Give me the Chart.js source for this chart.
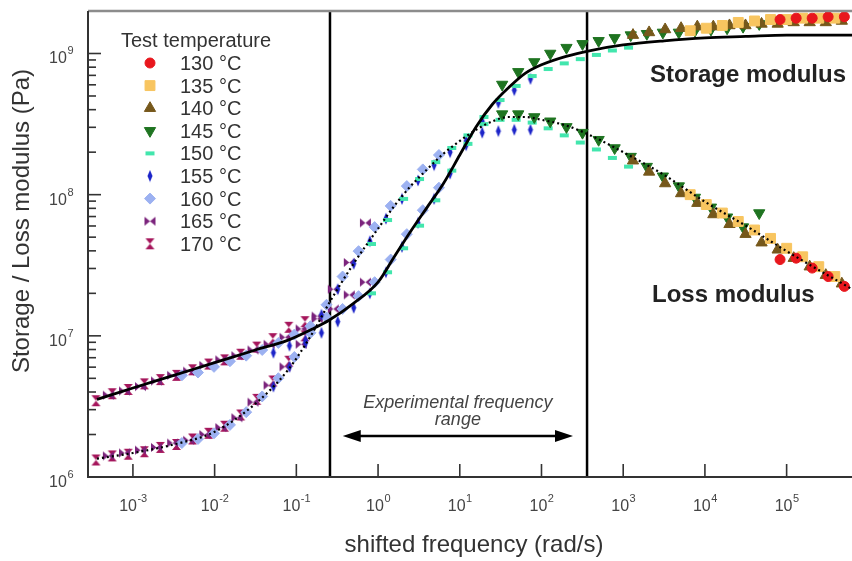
<!DOCTYPE html>
<html>
<head>
<meta charset="utf-8">
<title>Master curve</title>
<script src="https://cdn.jsdelivr.net/npm/chart.js@4.4.1/dist/chart.umd.min.js"></script>
<style>
  html, body { margin: 0; padding: 0; background: #fff; }
  #wrap { width: 852px; height: 561px; }
</style>
</head>
<body>
<div id="wrap"><canvas id="masterCurve" width="852" height="561"></canvas></div>
<script>
// test temperatures, in legend order
var temps = ['130 °C', '135 °C', '140 °C', '145 °C', '150 °C', '155 °C', '160 °C', '165 °C', '170 °C'];

// frequency sweep used at every temperature (rad/s)
var freq = [0.258, 0.406, 0.638, 1.00, 1.58, 2.48, 3.91, 6.14, 9.66, 15.2, 23.9, 37.5, 59.0, 92.7, 146, 229, 361];

// horizontal shift factor aT for each temperature
var shiftFactor = [3.22e5, 2.56e4, 5.11e3, 128, 3.22, 0.203, 0.0154, 1.94e-3, 3.53e-4];

// storage modulus G' (Pa) per temperature, null = outside the plotted window
var storage130 = [1.74e9, 1.78e9, 1.78e9, 1.82e9, 1.82e9];
var storage135 = [1.45e9, 1.51e9, 1.58e9, 1.66e9, 1.70e9, 1.74e9, 1.74e9, 1.78e9, 1.78e9, 1.78e9];
var storage140 = [1.35e9, 1.41e9, 1.48e9, 1.51e9, 1.55e9, 1.55e9, 1.58e9, 1.58e9, 1.62e9, 1.62e9, 1.66e9, 1.66e9, 1.66e9, 1.70e9];
var storage145 = [6.03e8, 7.41e8, 8.71e8, 1.00e9, 1.10e9, 1.17e9, 1.23e9, 1.29e9, 1.35e9, 1.38e9, 1.41e9, 1.41e9, 1.45e9, 1.48e9, 1.51e9, 1.55e9, 1.62e9];
var storage150 = [2.00e7, 2.82e7, 4.17e7, 6.03e7, 9.12e7, 1.48e8, 2.29e8, 3.55e8, 4.68e8, 5.89e8, 6.92e8, 7.76e8, 8.51e8, 9.12e8, 9.77e8, 1.05e9, 1.10e9];
var storage155 = [7.59e6, 8.51e6, 9.33e6, 1.05e7, 1.26e7, 1.58e7, 2.00e7, 2.82e7, 4.27e7, 6.31e7, 9.33e7, 1.41e8, 2.24e8, 3.31e8, 4.47e8, 5.50e8, 6.61e8];
var storage160 = [5.25e6, 5.50e6, 6.03e6, 6.61e6, 7.24e6, 7.94e6, 8.91e6, 1.02e7, 1.17e7, 1.35e7, 1.55e7, 1.91e7, 2.40e7, 3.47e7, 5.25e7, 7.76e7, 1.12e8];
var storage165 = [3.80e6, 4.07e6, 4.37e6, 4.79e6, 5.25e6, 5.62e6, 6.17e6, 6.76e6, 7.24e6, 7.94e6, 8.71e6, 9.77e6, 1.12e7, 1.32e7, 1.55e7, 1.95e7, 2.40e7];
var storage170 = [null, null, null, 3.47e6, 3.89e6, 4.17e6, 4.57e6, 4.90e6, 5.25e6, 5.75e6, 6.31e6, 6.76e6, 7.41e6, 8.32e6, 9.55e6, 1.15e7, 1.26e7];

// loss modulus G'' (Pa) per temperature
var loss130 = [3.47e7, 3.55e7, 3.02e7, 2.63e7, 2.24e7];
var loss135 = [1.00e8, 8.51e7, 7.41e7, 6.46e7, 5.62e7, 4.90e7, 4.17e7, 3.63e7, 3.09e7, 2.63e7];
var loss140 = [1.74e8, 1.45e8, 1.20e8, 1.02e8, 8.71e7, 7.24e7, 6.17e7, 5.25e7, 4.57e7, 4.07e7, 3.55e7, 3.09e7, 2.69e7, 2.34e7];
var loss145 = [3.72e8, 3.72e8, 3.55e8, 3.31e8, 3.02e8, 2.75e8, 2.45e8, 2.14e8, 1.86e8, 1.58e8, 1.35e8, 1.15e8, 9.55e7, 8.13e7, 6.92e7, 5.89e7, 7.41e7];
var loss150 = [4.47e7, 6.61e7, 9.33e7, 1.29e8, 1.70e8, 2.14e8, 2.63e8, 3.16e8, 3.39e8, 3.39e8, 3.24e8, 2.95e8, 2.63e8, 2.34e8, 2.09e8, 1.82e8, 1.58e8];
var loss155 = [4.37e6, 6.03e6, 8.91e6, 1.41e7, 2.14e7, 3.24e7, 4.68e7, 6.76e7, 9.33e7, 1.26e8, 1.62e8, 2.00e8, 2.40e8, 2.75e8, 2.82e8, 2.88e8, 2.88e8];
var loss160 = [1.74e6, 1.86e6, 2.04e6, 2.34e6, 2.88e6, 3.72e6, 5.01e6, 7.08e6, 1.05e7, 1.66e7, 2.63e7, 3.98e7, 5.89e7, 8.32e7, 1.15e8, 1.51e8, 1.91e8];
var loss165 = [1.41e6, 1.48e6, 1.55e6, 1.62e6, 1.74e6, 1.82e6, 2.00e6, 2.24e6, 2.63e6, 3.39e6, 4.47e6, 6.03e6, 8.71e6, 1.38e7, 2.14e7, 3.31e7, 6.31e7];
var loss170 = [null, null, null, 1.32e6, 1.41e6, 1.45e6, 1.51e6, 1.62e6, 1.70e6, 1.86e6, 2.04e6, 2.29e6, 2.75e6, 3.55e6, 4.79e6, 6.61e6, 1.00e7];

var storageSets = [storage130, storage135, storage140, storage145, storage150, storage155, storage160, storage165, storage170];
var lossSets = [loss130, loss135, loss140, loss145, loss150, loss155, loss160, loss165, loss170];

// model fit of the master curve
var fitFreq = [3.63e-4, 1e-3, 3.16e-3, 1e-2, 3.16e-2, 0.0794, 0.158, 0.251, 0.501, 1, 1.58, 2.51, 3.98, 6.31, 10, 15.8, 25.1, 39.8, 63.1, 100, 200, 398, 1000, 3162, 1e4, 31623, 1e5, 6.31e5];
var fitStorage = [3.55e6, 4.27e6, 5.25e6, 6.46e6, 7.94e6, 9.33e6, 1.12e7, 1.29e7, 1.70e7, 2.40e7, 3.63e7, 5.50e7, 8.13e7, 1.20e8, 1.91e8, 3.02e8, 4.37e8, 5.75e8, 7.24e8, 8.32e8, 9.55e8, 1.05e9, 1.15e9, 1.23e9, 1.29e9, 1.32e9, 1.35e9, 1.35e9];
var fitLoss = [1.35e6, 1.48e6, 1.70e6, 2.09e6, 3.31e6, 5.75e6, 1.05e7, 1.70e7, 3.24e7, 5.75e7, 8.32e7, 1.15e8, 1.51e8, 1.95e8, 2.40e8, 2.88e8, 3.31e8, 3.55e8, 3.55e8, 3.39e8, 3.09e8, 2.63e8, 2.00e8, 1.38e8, 8.91e7, 6.03e7, 3.98e7, 2.14e7];

// experimental window (rad/s) and the arrow drawn inside it
var rangeLimits = [0.258, 361];
var arrowSpan = [0.37, 243];
var arrowLevel = 1.95e6;

// decade tick labels
var xTickPowers = [-3, -2, -1, 0, 1, 2, 3, 4, 5];
var yTickPowers = [6, 7, 8, 9];

var FONT = '"Liberation Sans", Arial, Helvetica, sans-serif';
var markerColors = ['#e8171d', '#f8c560', '#76581b', '#1f7421', '#42e6ad', '#1d25c9', '#9cb1f1', '#7b237c', '#a5155b'];

// custom marker shapes
function makeSprite(w, h, color, path) {
  var c = document.createElement('canvas');
  c.width = w; c.height = h;
  var g = c.getContext('2d');
  g.fillStyle = color;
  g.beginPath();
  path(g, w, h);
  g.fill();
  return c;
}
var thinDiamond = makeSprite(8, 13, markerColors[5], function (g, w, h) {
  g.moveTo(w / 2, 0.5); g.lineTo(w - 1.5, h / 2); g.lineTo(w / 2, h - 0.5); g.lineTo(1.5, h / 2); g.closePath();
});
var bowtie = makeSprite(13, 11, markerColors[7], function (g, w, h) {
  g.moveTo(1, 1); g.lineTo(1, h - 1); g.lineTo(w / 2, h / 2); g.closePath();
  g.moveTo(w - 1, 1); g.lineTo(w - 1, h - 1); g.lineTo(w / 2, h / 2); g.closePath();
});
var hourglass = makeSprite(11, 13, markerColors[8], function (g, w, h) {
  g.moveTo(1, 1); g.lineTo(w - 1, 1); g.lineTo(w / 2, h / 2); g.closePath();
  g.moveTo(1, h - 1); g.lineTo(w - 1, h - 1); g.lineTo(w / 2, h / 2); g.closePath();
});

var markers = [
  { pointStyle: 'circle', radius: 5 },
  { pointStyle: 'rect', radius: 7 },
  { pointStyle: 'triangle', radius: 6.5 },
  { pointStyle: 'triangle', radius: 6.5, rotation: 180 },
  { pointStyle: 'line', radius: 4.5, borderWidth: 4 },
  { pointStyle: thinDiamond, radius: 5 },
  { pointStyle: 'rectRot', radius: 5.5 },
  { pointStyle: bowtie, radius: 6 },
  { pointStyle: hourglass, radius: 6 }
];

function toPoints(values, shift) {
  var pts = [];
  values.forEach(function (v, k) {
    if (v !== null) pts.push({ x: freq[k] * shift, y: v });
  });
  return pts;
}

function fitPoints(values) {
  return fitFreq.map(function (f, i) { return { x: f, y: values[i] }; });
}

var datasets = [
  {
    label: 'fit storage', data: fitPoints(fitStorage), showLine: true, order: 0,
    borderColor: '#000', borderWidth: 2.8, pointRadius: 0, cubicInterpolationMode: 'monotone'
  },
  {
    label: 'fit loss', data: fitPoints(fitLoss), showLine: true, order: 0,
    borderColor: '#000', borderWidth: 2.2, borderDash: [2, 3], pointRadius: 0, cubicInterpolationMode: 'monotone'
  }
];

temps.forEach(function (t, i) {
  var m = markers[i];
  [storageSets[i], lossSets[i]].forEach(function (vals, j) {
    datasets.push({
      label: t + (j === 0 ? " G'" : " G''"),
      data: toPoints(vals, shiftFactor[i]),
      showLine: false,
      order: 1,
      pointStyle: m.pointStyle,
      pointRadius: m.radius,
      pointRotation: m.rotation || 0,
      pointBackgroundColor: markerColors[i],
      pointBorderColor: markerColors[i],
      pointBorderWidth: m.borderWidth || 1
    });
  });
});

function powLabel(ctx, p, x, baseY, align) {
  var base = '10', sup = String(p);
  ctx.font = '16px ' + FONT;
  var wb = ctx.measureText(base).width;
  ctx.font = '11px ' + FONT;
  var ws = ctx.measureText(sup).width;
  var left = align === 'center' ? x - (wb + ws) / 2 : x - wb - ws;
  ctx.textAlign = 'left';
  ctx.textBaseline = 'alphabetic';
  ctx.font = '16px ' + FONT;
  ctx.fillText(base, left, baseY);
  ctx.font = '11px ' + FONT;
  ctx.fillText(sup, left + wb + 0.5, baseY - 9);
}

var decor = {
  id: 'decor',
  beforeDatasetsDraw: function (chart) {
    var ctx = chart.ctx, a = chart.chartArea, xs = chart.scales.x;
    ctx.save();
    ctx.strokeStyle = '#000';
    ctx.lineWidth = 2.5;
    rangeLimits.forEach(function (f) {
      var px = xs.getPixelForValue(f);
      ctx.beginPath(); ctx.moveTo(px, a.top); ctx.lineTo(px, a.bottom); ctx.stroke();
    });
    ctx.restore();
  },
  afterDraw: function (chart) {
    var ctx = chart.ctx, a = chart.chartArea, xs = chart.scales.x, ys = chart.scales.y;
    ctx.save();

    // frame
    ctx.strokeStyle = '#8c8c8c';
    ctx.lineWidth = 2.5;
    ctx.beginPath(); ctx.moveTo(a.left, a.top); ctx.lineTo(a.right, a.top); ctx.stroke();
    ctx.strokeStyle = '#333';
    ctx.lineWidth = 2;
    ctx.beginPath(); ctx.moveTo(a.left, a.top); ctx.lineTo(a.left, a.bottom); ctx.lineTo(a.right, a.bottom); ctx.stroke();

    // inward ticks
    ctx.lineWidth = 1.6;
    xTickPowers.forEach(function (p) {
      var px = xs.getPixelForValue(Math.pow(10, p));
      ctx.beginPath(); ctx.moveTo(px, a.bottom); ctx.lineTo(px, a.bottom - 13); ctx.stroke();
    });
    yTickPowers.forEach(function (p) {
      for (var m = 1; m <= 9; m++) {
        var v = m * Math.pow(10, p);
        if (v >= ys.max) break;
        var py = ys.getPixelForValue(v);
        ctx.beginPath(); ctx.moveTo(a.left, py); ctx.lineTo(a.left + (m === 1 ? 13 : 8), py); ctx.stroke();
      }
    });

    // tick labels
    ctx.fillStyle = '#444';
    xTickPowers.forEach(function (p) {
      powLabel(ctx, p, xs.getPixelForValue(Math.pow(10, p)), a.bottom + 34, 'center');
    });
    yTickPowers.forEach(function (p) {
      powLabel(ctx, p, 73, ys.getPixelForValue(Math.pow(10, p)) + 10, 'right');
    });

    // axis titles
    ctx.fillStyle = '#333';
    ctx.font = '24px ' + FONT;
    ctx.textAlign = 'center';
    ctx.textBaseline = 'alphabetic';
    ctx.fillText('shifted frequency (rad/s)', 474, 552);
    ctx.save();
    ctx.translate(22, 221);
    ctx.rotate(-Math.PI / 2);
    ctx.textBaseline = 'middle';
    ctx.fillText('Storage / Loss modulus (Pa)', 0, 0);
    ctx.restore();

    // curve names
    ctx.fillStyle = '#222';
    ctx.font = 'bold 24px ' + FONT;
    ctx.textAlign = 'left';
    ctx.fillText('Storage modulus', 650, 82);
    ctx.fillText('Loss modulus', 652, 302);

    // experimental window arrow
    var x0 = xs.getPixelForValue(arrowSpan[0]), x1 = xs.getPixelForValue(arrowSpan[1]);
    var ay = ys.getPixelForValue(arrowLevel);
    ctx.strokeStyle = '#000';
    ctx.fillStyle = '#000';
    ctx.lineWidth = 2.5;
    ctx.beginPath(); ctx.moveTo(x0 + 10, ay); ctx.lineTo(x1 - 10, ay); ctx.stroke();
    ctx.beginPath(); ctx.moveTo(x0, ay); ctx.lineTo(x0 + 18, ay - 6); ctx.lineTo(x0 + 18, ay + 6); ctx.closePath(); ctx.fill();
    ctx.beginPath(); ctx.moveTo(x1, ay); ctx.lineTo(x1 - 18, ay - 6); ctx.lineTo(x1 - 18, ay + 6); ctx.closePath(); ctx.fill();
    ctx.fillStyle = '#444';
    ctx.font = 'italic 18px ' + FONT;
    ctx.textAlign = 'center';
    var cx = (x0 + x1) / 2;
    ctx.fillText('Experimental frequency', cx, ay - 28);
    ctx.fillText('range', cx, ay - 11);

    // legend
    ctx.fillStyle = '#333';
    ctx.font = '20px ' + FONT;
    ctx.textAlign = 'center';
    ctx.fillText('Test temperature', 196, 47);
    ctx.textAlign = 'left';
    temps.forEach(function (t, i) {
      var y = 63 + 22.6 * i;
      var m = markers[i];
      ctx.save();
      ctx.fillStyle = markerColors[i];
      ctx.strokeStyle = markerColors[i];
      ctx.lineWidth = m.borderWidth || 1;
      Chart.helpers.drawPoint(ctx, {
        pointStyle: m.pointStyle, radius: m.radius, rotation: m.rotation || 0, borderWidth: m.borderWidth || 1
      }, 150, y);
      ctx.restore();
      ctx.fillStyle = '#333';
      ctx.font = '20px ' + FONT;
      ctx.fillText(t, 180, y + 7);
    });

    ctx.restore();
  }
};

new Chart(document.getElementById('masterCurve'), {
  type: 'scatter',
  data: { datasets: datasets },
  options: {
    responsive: false,
    devicePixelRatio: 1,
    animation: false,
    layout: { autoPadding: false, padding: { top: 11, right: 0, bottom: 0, left: 0 } },
    plugins: { legend: { display: false }, tooltip: { enabled: false } },
    scales: {
      x: {
        type: 'logarithmic', min: 2.82e-4, max: 6.31e5, bounds: 'data',
        grid: { display: false }, border: { display: false }, ticks: { display: false },
        afterFit: function (s) { s.height = 84; }
      },
      y: {
        type: 'logarithmic', min: 1e6, max: 2e9, bounds: 'data',
        grid: { display: false }, border: { display: false }, ticks: { display: false },
        afterFit: function (s) { s.width = 88; }
      }
    }
  },
  plugins: [decor]
});
</script>
</body>
</html>
